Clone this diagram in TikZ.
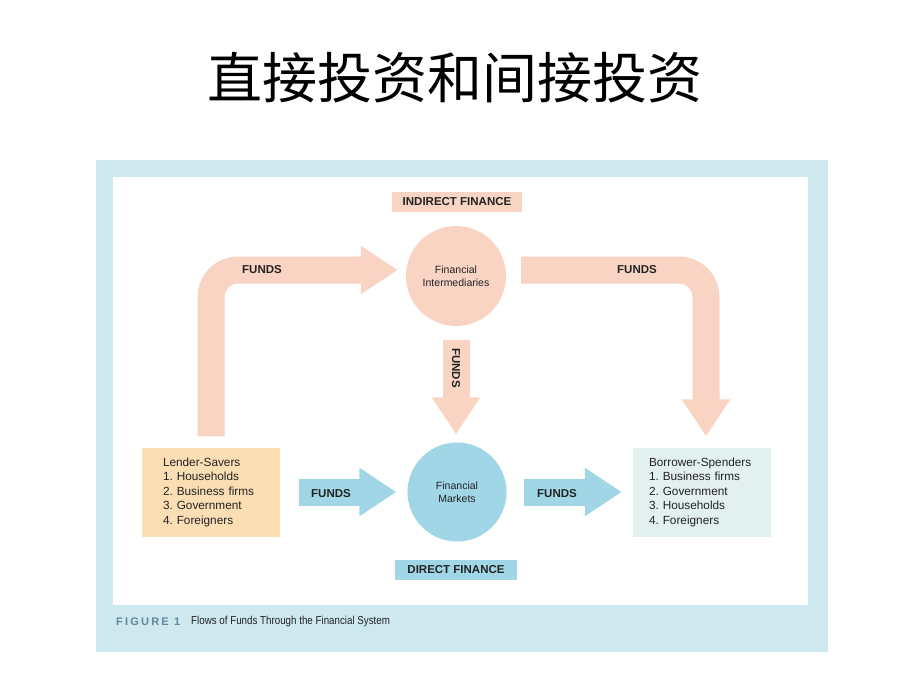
\documentclass[tikz,border=0pt]{standalone}
\usepackage{fontspec}
\setmainfont{Liberation Sans}
\newfontfamily\cjk{Noto Sans CJK SC}
\newfontfamily\capfont[FakeStretch=0.85]{Liberation Sans}
\usetikzlibrary{arrows.meta}

\definecolor{framebg}{RGB}{206,232,240}
\definecolor{salmon}{RGB}{249,212,194}
\definecolor{skyblue}{RGB}{160,214,230}
\definecolor{lenderbg}{RGB}{252,222,180}
\definecolor{borrowbg}{RGB}{226,240,239}
\definecolor{capblue}{RGB}{95,135,158}
\definecolor{ink}{RGB}{35,35,35}

\tikzset{
  fatsalmon/.style={draw=salmon, line width=27pt, -{Triangle[width=46pt,length=37pt]}},
  fatblue/.style={draw=skyblue, line width=27pt, -{Triangle[width=46pt,length=37pt]}},
  tag/.style={font=\fontsize{11.5}{13}\selectfont\bfseries, text=ink, inner sep=0pt, minimum height=20pt},
  roundnode/.style={circle, inner sep=0pt, minimum size=100pt, align=center, font=\fontsize{10.5}{12.5}\selectfont, text=ink},
  sectorbox/.style={inner ysep=0pt, minimum height=89pt, align=left, font=\fontsize{11.8}{14.5}\selectfont, text=ink},
  fundslabel/.style={font=\fontsize{11.5}{13}\selectfont\bfseries, text=ink},
}

\begin{document}
\frenchspacing
\begin{tikzpicture}[x=1pt,y=-1pt]
  \useasboundingbox (0,0) rectangle (920,690);

  % 标题
  \node[font=\cjk\fontsize{55}{60}\selectfont] (title) at (455,78) {直接投资和间接投资};

  % 图框
  \fill[framebg] (96,160) rectangle (828,652);
  \fill[white] (113,177) rectangle (808,605);

  % 中介与市场
  \node[tag, fill=salmon, minimum width=130pt] (indirect) at (457,202) {INDIRECT FINANCE};
  \node[roundnode, fill=salmon] (inter) at (456,276) {Financial\\Intermediaries};
  \node[roundnode, fill=skyblue, minimum size=99pt] (markets) at (457,492) {Financial\\Markets};
  \node[tag, fill=skyblue, minimum width=122pt] (direct) at (456,570) {DIRECT FINANCE};

  % 资金供给者与需求者
  \node[sectorbox, fill=lenderbg, inner xsep=21pt, text width=96pt] (lender) at (211,492)
    {Lender-Savers\\1. Households\\2. Business firms\\3. Government\\4. Foreigners};
  \node[sectorbox, fill=borrowbg, inner xsep=16pt, text width=106pt] (borrower) at (702,492)
    {Borrower-Spenders\\1. Business firms\\2. Government\\3. Households\\4. Foreigners};

  % 间接融资 (粉色箭头)
  \draw[fatsalmon, rounded corners=27pt, shorten >=8pt] ([yshift=11pt]lender.north) |- ([yshift=6pt]inter.west);
  \draw[fatsalmon, rounded corners=27pt] ([xshift=15pt,yshift=6pt]inter.east) -| ([xshift=4pt,yshift=11pt]borrower.north);
  \draw[fatsalmon, shorten <=14pt, shorten >=8pt] (inter.south) -- (inter.south |- markets.north);

  % 直接融资 (蓝色箭头)
  \draw[fatblue, shorten <=19pt, shorten >=11pt] (lender.east) -- (markets.west);
  \draw[fatblue, shorten <=17pt, shorten >=11pt] (markets.east) -- (borrower.west);

  % 箭头上的文字
  \node[fundslabel] (fundsA) at (262,270) {FUNDS};
  \node[fundslabel] (fundsB) at (637,270) {FUNDS};
  \node[fundslabel, rotate=-90] (fundsC) at (456,368) {FUNDS};
  \node[fundslabel] (fundsD) at (331,494) {FUNDS};
  \node[fundslabel] (fundsE) at (557,494) {FUNDS};

  % 图注
  \node[anchor=west, inner sep=0pt, text=capblue, font=\fontsize{11}{13}\selectfont\bfseries\addfontfeature{LetterSpace=20}] (figno) at (116,622) {FIGURE 1};
  \node[anchor=west, inner sep=0pt, text=ink, font=\capfont\fontsize{11.5}{13}\selectfont] (figcap) at (191,622) {Flows of Funds Through the Financial System};
\end{tikzpicture}
\end{document}
